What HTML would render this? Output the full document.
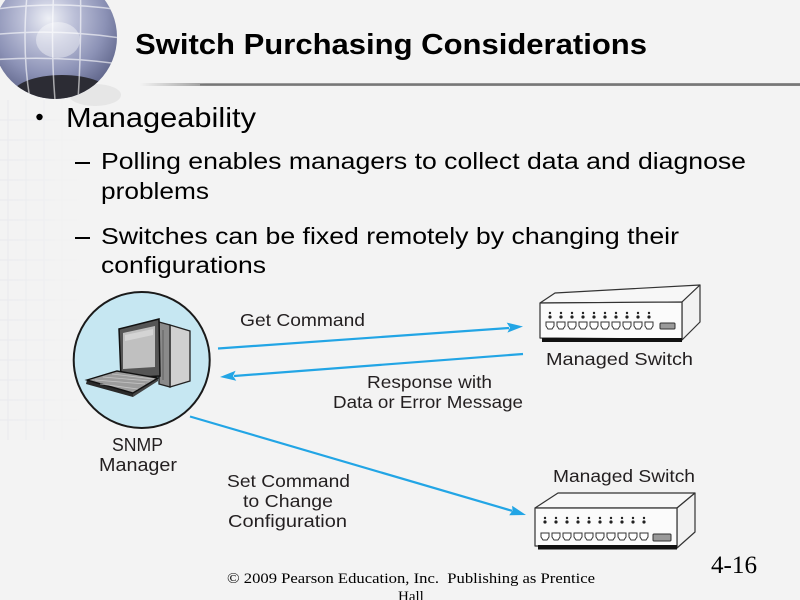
<!DOCTYPE html>
<html>
<head>
<meta charset="utf-8">
<style>
  html, body { margin: 0; padding: 0; background: #f3f3f3; }
  body { width: 800px; height: 600px; overflow: hidden; }
  svg { display: block; }
</style>
</head>
<body>
<svg width="800" height="600" viewBox="0 0 800 600" xmlns="http://www.w3.org/2000/svg">
  <defs>
    <radialGradient id="globeG" cx="0.45" cy="0.35" r="0.7">
      <stop offset="0" stop-color="#eef0f6"/>
      <stop offset="0.3" stop-color="#bcc0d8"/>
      <stop offset="0.65" stop-color="#8c92b6"/>
      <stop offset="1" stop-color="#555b80"/>
    </radialGradient>
    <clipPath id="globeClip"><circle cx="55" cy="37" r="62"/></clipPath>
    <linearGradient id="lineG" x1="0" x2="1" y1="0" y2="0">
      <stop offset="0" stop-color="#f3f3f3"/>
      <stop offset="0.1" stop-color="#9a9a9a"/>
      <stop offset="1" stop-color="#8a8a8a"/>
    </linearGradient>
    <linearGradient id="gridFade" x1="0" x2="1" y1="0" y2="0">
      <stop offset="0" stop-color="#fff" stop-opacity="1"/>
      <stop offset="1" stop-color="#fff" stop-opacity="0"/>
    </linearGradient>
    <mask id="gridMask">
      <rect x="0" y="60" width="80" height="390" fill="url(#gridFade)"/>
    </mask>
    <path id="port" d="M0,0 h8 v4 l-2,3 h-4 l-2,-3 z" fill="#fff" stroke="#333" stroke-width="1"/>
    <g id="dp"><circle cx="0" cy="0" r="1.2" fill="#222"/><circle cx="0" cy="4" r="1.6" fill="#222"/></g>
  </defs>

  <rect width="800" height="600" fill="#f3f3f3"/>

  <!-- faint grid texture on left -->
  <g mask="url(#gridMask)" stroke="#dcdee8" stroke-width="1" opacity="0.5">
    <path d="M0,120 H80 M0,140 H80 M0,160 H80 M0,180 H80 M0,200 H80 M0,220 H80 M0,240 H80 M0,260 H80 M0,280 H80 M0,300 H80 M0,320 H80 M0,340 H80 M0,360 H80 M0,380 H80 M0,400 H80 M0,420 H80"/>
    <path d="M8,100 V440 M26,100 V440 M44,100 V440 M62,100 V440"/>
  </g>

  <!-- globe -->
  <ellipse cx="95" cy="95" rx="26" ry="11" fill="#cfcfcf" opacity="0.35"/>
  <circle cx="55" cy="37" r="62" fill="url(#globeG)"/>
  <g clip-path="url(#globeClip)">
    <ellipse cx="62" cy="95" rx="50" ry="20" fill="#2c2c34"/>
    <g stroke="#ffffff" stroke-width="1.5" fill="none" opacity="0.6">
      <path d="M-10,10 Q55,0 120,10"/>
      <path d="M-10,35 Q55,28 120,38"/>
      <path d="M-10,60 Q55,55 120,64"/>
      <path d="M30,-30 Q20,40 30,100"/>
      <path d="M55,-30 Q50,40 55,100"/>
      <path d="M80,-30 Q82,40 78,100"/>
    </g>
    <ellipse cx="58" cy="40" rx="22" ry="18" fill="#ffffff" opacity="0.4"/>
  </g>

  <!-- title -->
  <text x="135" y="54" font-family="'Liberation Sans', Arial, sans-serif" font-weight="bold" font-size="29" fill="#000" textLength="512" lengthAdjust="spacingAndGlyphs">Switch Purchasing Considerations</text>
  <rect x="140" y="83" width="660" height="3" fill="url(#lineG)"/>
  <rect x="200" y="84" width="600" height="1.5" fill="#777"/>

  <!-- bullets -->
  <circle cx="39.5" cy="117" r="3.2" fill="#000"/>
  <text x="66" y="127" font-family="'Liberation Sans', Arial, sans-serif" font-size="28" fill="#000" textLength="190" lengthAdjust="spacingAndGlyphs">Manageability</text>

  <rect x="75" y="162" width="15" height="2" fill="#000"/>
  <text x="101" y="169" font-family="'Liberation Sans', Arial, sans-serif" font-size="23.5" fill="#000" textLength="645" lengthAdjust="spacingAndGlyphs">Polling enables managers to collect data and diagnose</text>
  <text x="101" y="199" font-family="'Liberation Sans', Arial, sans-serif" font-size="23.5" fill="#000" textLength="108" lengthAdjust="spacingAndGlyphs">problems</text>

  <rect x="75" y="237" width="15" height="2" fill="#000"/>
  <text x="101" y="244" font-family="'Liberation Sans', Arial, sans-serif" font-size="23.5" fill="#000" textLength="578" lengthAdjust="spacingAndGlyphs">Switches can be fixed remotely by changing their</text>
  <text x="101" y="273" font-family="'Liberation Sans', Arial, sans-serif" font-size="23.5" fill="#000" textLength="165" lengthAdjust="spacingAndGlyphs">configurations</text>

  <!-- SNMP manager circle -->
  <circle cx="141.7" cy="360" r="68" fill="#c6e7f2" stroke="#1a1a1a" stroke-width="2"/>
  <!-- tower -->
  <polygon points="170,325 190,331 190,381 170,387" fill="#d0d0d0" stroke="#222" stroke-width="1.3"/>
  <polygon points="159,322 170,325 170,387 159,384" fill="#8a8a8a" stroke="#222" stroke-width="1.3"/>
  <line x1="163" y1="330" x2="163" y2="380" stroke="#555" stroke-width="0.8"/>
  <!-- monitor -->
  <polygon points="119,329 159,319 160,376 121,378" fill="#555" stroke="#111" stroke-width="1.5"/>
  <polygon points="123,333 155,326 155,367 123,369" fill="#c0c0c0"/>
  <polygon points="125,335 153,329 153,335 125,341" fill="#d4d4d4"/>
  <!-- keyboard -->
  <polygon points="87,380 133,393 133,397 86,384" fill="#2a2a2a"/>
  <polygon points="133,393 158,378 158,381 133,397" fill="#444"/>
  <polygon points="87,380 117,371 158,378 133,393" fill="#9c9c9c" stroke="#111" stroke-width="1.4"/>
  <g stroke="#cfcfcf" stroke-width="0.8" opacity="0.8">
    <path d="M95,380 L145,384 M103,377 L150,381 M112,374 L154,379 M100,384 L138,389"/>
  </g>

  <text x="112" y="451" font-family="'Liberation Sans', Arial, sans-serif" font-size="18" fill="#231f20" textLength="51" lengthAdjust="spacingAndGlyphs">SNMP</text>
  <text x="99" y="471" font-family="'Liberation Sans', Arial, sans-serif" font-size="18" fill="#231f20" textLength="78" lengthAdjust="spacingAndGlyphs">Manager</text>

  <!-- arrows -->
  <g stroke="#22a5e5" stroke-width="2.2" fill="none">
    <line x1="218" y1="348.5" x2="509" y2="328"/>
    <line x1="523" y1="354" x2="234" y2="376"/>
    <line x1="190" y1="416.5" x2="512" y2="510.8"/>
  </g>
  <g fill="#22a5e5">
    <polygon points="523,326.5 507.4,332.6 510,327.8 506.7,322.6"/>
    <polygon points="220,377 236.3,380.8 233,376 235.6,370.8"/>
    <polygon points="526,515 509.2,515.3 512.5,510.6 512.1,505.7"/>
  </g>

  <!-- labels -->
  <g font-family="'Liberation Sans', Arial, sans-serif" font-size="17.5" fill="#231f20">
    <text x="240" y="326" textLength="125" lengthAdjust="spacingAndGlyphs">Get Command</text>
    <text x="367" y="388" textLength="125" lengthAdjust="spacingAndGlyphs">Response with</text>
    <text x="333" y="408" textLength="190" lengthAdjust="spacingAndGlyphs">Data or Error Message</text>
    <text x="227" y="487" textLength="123" lengthAdjust="spacingAndGlyphs">Set Command</text>
    <text x="243" y="507" textLength="90" lengthAdjust="spacingAndGlyphs">to Change</text>
    <text x="228" y="527" textLength="119" lengthAdjust="spacingAndGlyphs">Configuration</text>
    <text x="546" y="365" textLength="147" lengthAdjust="spacingAndGlyphs">Managed Switch</text>
    <text x="553" y="482" textLength="142" lengthAdjust="spacingAndGlyphs">Managed Switch</text>
  </g>

  <!-- upper switch -->
  <g stroke="#333" stroke-width="1.2" stroke-linejoin="round">
    <polygon points="540,303 555,293 700,285 682,302" fill="#f7f7f7"/>
    <polygon points="682,302 700,285 700,322 682,340" fill="#f2f2f2"/>
    <polygon points="540,303 682,302 682,339 540,338" fill="#fbfbfb"/>
  </g>
  <rect x="542" y="338" width="140" height="4" fill="#111"/>
  <g>
    <use href="#dp" x="550" y="313"/><use href="#dp" x="561" y="313"/><use href="#dp" x="572" y="313"/><use href="#dp" x="583" y="313"/><use href="#dp" x="594" y="313"/>
    <use href="#dp" x="605" y="313"/><use href="#dp" x="616" y="313"/><use href="#dp" x="627" y="313"/><use href="#dp" x="638" y="313"/><use href="#dp" x="649" y="313"/>
    <use href="#port" x="546" y="322"/><use href="#port" x="557" y="322"/><use href="#port" x="568" y="322"/><use href="#port" x="579" y="322"/><use href="#port" x="590" y="322"/>
    <use href="#port" x="601" y="322"/><use href="#port" x="612" y="322"/><use href="#port" x="623" y="322"/><use href="#port" x="634" y="322"/><use href="#port" x="645" y="322"/>
  </g>
  <rect x="660" y="323" width="15" height="6" rx="1" fill="#9a9a9a" stroke="#333" stroke-width="1"/>

  <!-- lower switch -->
  <g stroke="#333" stroke-width="1.2" stroke-linejoin="round">
    <polygon points="535,508 558,493 695,493 677,508" fill="#f7f7f7"/>
    <polygon points="677,508 695,493 695,532 677,548" fill="#f2f2f2"/>
    <polygon points="535,508 677,508 677,546 535,546" fill="#fbfbfb"/>
  </g>
  <rect x="538" y="545" width="139" height="4.5" fill="#111"/>
  <g>
    <use href="#dp" x="545" y="518"/><use href="#dp" x="556" y="518"/><use href="#dp" x="567" y="518"/><use href="#dp" x="578" y="518"/><use href="#dp" x="589" y="518"/>
    <use href="#dp" x="600" y="518"/><use href="#dp" x="611" y="518"/><use href="#dp" x="622" y="518"/><use href="#dp" x="633" y="518"/><use href="#dp" x="644" y="518"/>
    <use href="#port" x="541" y="533"/><use href="#port" x="552" y="533"/><use href="#port" x="563" y="533"/><use href="#port" x="574" y="533"/><use href="#port" x="585" y="533"/>
    <use href="#port" x="596" y="533"/><use href="#port" x="607" y="533"/><use href="#port" x="618" y="533"/><use href="#port" x="629" y="533"/><use href="#port" x="640" y="533"/>
  </g>
  <rect x="653" y="534" width="18" height="7" rx="1" fill="#9a9a9a" stroke="#333" stroke-width="1"/>

  <!-- footer -->
  <text x="227" y="583" font-family="'Liberation Serif', 'Times New Roman', serif" font-size="15" fill="#000" textLength="368" lengthAdjust="spacingAndGlyphs">© 2009 Pearson Education, Inc.&#160; Publishing as Prentice</text>
  <text x="398" y="601" font-family="'Liberation Serif', 'Times New Roman', serif" font-size="15" fill="#000">Hall</text>
  <text x="711" y="573" font-family="'Liberation Serif', 'Times New Roman', serif" font-size="25" fill="#000" textLength="46" lengthAdjust="spacingAndGlyphs">4-16</text>
</svg>
</body>
</html>
